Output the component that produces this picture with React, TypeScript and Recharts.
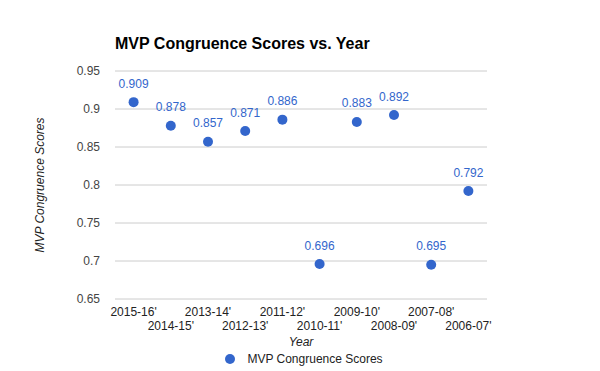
import React from 'react';
import { ComposedChart, Scatter, XAxis, YAxis, CartesianGrid, Legend, LabelList } from 'recharts';

const seasons = ["2015-16'", "2014-15'", "2013-14'", "2012-13'", "2011-12'", "2010-11'", "2009-10'", "2008-09'", "2007-08'", "2006-07'"];
const scores = [0.909, 0.878, 0.857, 0.871, 0.886, 0.696, 0.883, 0.892, 0.695, 0.792];
const yTicks = [0.65, 0.7, 0.75, 0.8, 0.85, 0.9, 0.95];

const seriesName = 'MVP Congruence Scores';
const blue = '#3366cc';
const font = 'Arial, "Liberation Sans", sans-serif';

const data = seasons.map((season, i) => ({ season, score: scores[i] }));

const StaggeredTick = (props: any) => {
  const { x, y, payload, index } = props;
  const offset = index % 2 === 0 ? 0 : 14;
  return (
    <text x={x} y={y + offset} dy="0.71em" textAnchor="middle" fill="#222" fontSize={12} fontFamily={font}>
      {payload.value}
    </text>
  );
};

const YTitle = (props: any) => {
  const { viewBox } = props;
  const x = viewBox.x + 40;
  const y = viewBox.y + viewBox.height / 2;
  return (
    <text x={x} y={y} transform={`rotate(-90, ${x}, ${y})`} textAnchor="middle" dominantBaseline="central"
      fill="#222" fontSize={12} fontStyle="italic" fontFamily={font}>
      MVP Congruence Scores
    </text>
  );
};

const XTitle = (props: any) => {
  const { viewBox } = props;
  return (
    <text x={viewBox.x + viewBox.width / 2} y={viewBox.y + 43} textAnchor="middle" dominantBaseline="central"
      fill="#222" fontSize={12} fontStyle="italic" fontFamily={font}>
      Year
    </text>
  );
};

const LegendContent = () => (
  <div style={{ height: 24, display: 'flex', justifyContent: 'center', alignItems: 'center', fontFamily: font, fontSize: 12, color: '#222', paddingLeft: 8 }}>
    <svg width={10} height={10} style={{ marginRight: 12 }}>
      <circle cx={5} cy={5} r={5} fill={blue} />
    </svg>
    {seriesName}
  </div>
);

export default function App() {
  return (
    <div style={{ position: 'absolute', top: 0, left: 0, width: 600, height: 371, background: '#fff' }}>
      <div style={{ position: 'absolute', left: 115, top: 35, fontFamily: font, fontSize: 16, fontWeight: 'bold', color: '#000' }}>
        MVP Congruence Scores vs. Year
      </div>
      <ComposedChart width={600} height={371} data={data} margin={{ top: 71, right: 113, bottom: 0, left: 0 }}>
        <CartesianGrid vertical={false} stroke="#cccccc" />
        <XAxis dataKey="season" type="category" scale="band" axisLine={false} tickLine={false} height={48}
          interval={0} tick={<StaggeredTick />} label={<XTitle />} />
        <YAxis type="number" domain={[0.65, 0.95]} ticks={yTicks} width={115} axisLine={false} tickLine={false}
          tickMargin={9} tick={{ fill: '#444', fontSize: 12, fontFamily: font }} label={<YTitle />} />
        <Legend verticalAlign="bottom" content={<LegendContent />} wrapperStyle={{ left: 0, width: 600 }} />
        <Scatter name={seriesName} dataKey="score" fill={blue} isAnimationActive={false}
          shape={(p: any) => <circle cx={p.cx} cy={p.cy} r={5} fill={blue} />}>
          <LabelList dataKey="score" position="top" offset={10} fill={blue} fontSize={12} fontFamily={font} />
        </Scatter>
      </ComposedChart>
    </div>
  );
}
